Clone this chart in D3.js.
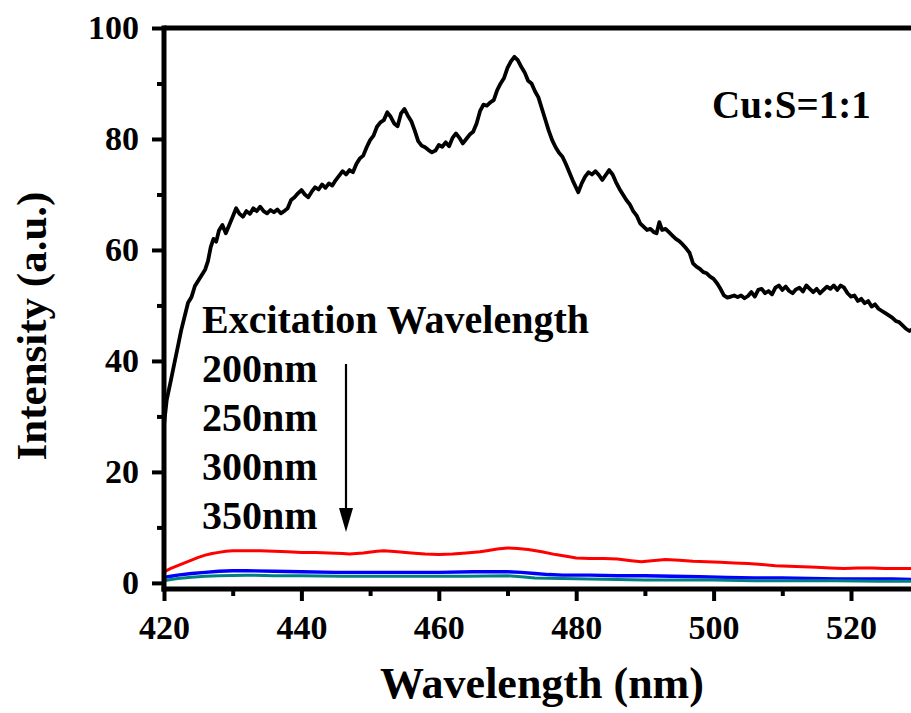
<!DOCTYPE html>
<html>
<head>
<meta charset="utf-8">
<script src="https://cdnjs.cloudflare.com/ajax/libs/d3/7.8.5/d3.min.js"></script>
<style>
html, body { margin: 0; padding: 0; background: #fff; }
svg { display: block; }
text { font-family: "Liberation Serif", "Times New Roman", serif; font-weight: bold; fill: #000; }
</style>
</head>
<body>
<svg id="chart" width="911" height="713"></svg>
<script>
// ---- data ----
const xTicks = [420, 440, 460, 480, 500, 520];
const xMinorTicks = [430, 450, 470, 490, 510, 530];
const yTicks = [0, 20, 40, 60, 80, 100];
const yMinorTicks = [10, 30, 50, 70, 90];

const legendTitle = "Excitation Wavelength";
const legendItems = ["200nm", "250nm", "300nm", "350nm"];
const sampleLabel = "Cu:S=1:1";
const xTitle = "Wavelength (nm)";
const yTitle = "Intensity (a.u.)";

const ex200 = [
[420.0,28.5],[420.4,33.0],[421.0,36.5],[421.5,39.5],[422.0,42.5],[422.5,45.5],[423.0,48.0],[423.5,50.5],
[424.0,51.5],[424.5,53.5],[425.0,54.5],[425.5,55.5],[426.0,56.5],[426.4,58.0],[426.8,60.5],[427.2,62.0],
[427.6,61.5],[428.0,63.5],[428.5,64.5],[429.0,63.0],[429.5,64.5],[430.0,66.0],[430.5,67.5],[431.0,66.5],
[431.5,66.0],[432.0,67.0],[432.5,66.5],[433.0,67.5],[433.5,67.0],[434.0,67.8],[434.5,67.0],[435.0,66.6],
[435.5,67.2],[436.0,66.8],[436.5,67.3],[437.0,66.6],[437.5,67.0],[438.0,67.5],[438.5,69.0],[439.0,69.5],
[439.5,70.2],[440.0,70.8],[440.5,70.0],[441.0,69.5],[441.5,70.5],[442.0,71.3],[442.5,70.9],[443.0,71.8],
[443.5,71.2],[444.0,72.0],[444.5,71.6],[445.0,72.6],[445.5,73.4],[446.0,74.2],[446.5,73.6],[447.0,74.4],
[447.5,74.0],[448.0,75.5],[448.5,76.5],[449.0,77.0],[449.5,78.5],[450.0,79.8],[450.5,80.6],[451.0,82.2],
[451.5,83.0],[452.0,83.4],[452.5,84.8],[453.0,84.0],[453.5,82.8],[454.0,82.3],[454.5,84.6],[455.0,85.4],
[455.5,84.2],[456.0,83.2],[456.5,81.5],[457.0,79.6],[457.5,78.8],[458.0,78.5],[458.5,78.0],[459.0,77.6],
[459.5,77.9],[460.0,78.9],[460.5,78.6],[461.0,79.4],[461.5,78.7],[462.0,80.2],[462.5,81.0],[463.0,80.2],
[463.5,79.2],[464.0,80.0],[464.5,80.8],[465.0,81.3],[465.5,82.8],[466.0,85.0],[466.5,86.2],[467.0,86.0],
[467.5,86.6],[468.0,87.0],[468.5,88.8],[469.0,90.0],[469.5,91.0],[470.0,92.8],[470.5,94.0],[471.0,94.8],
[471.5,94.2],[472.0,93.0],[472.5,92.0],[473.0,90.5],[473.5,90.0],[474.0,88.6],[474.5,87.5],[475.0,85.5],
[475.5,83.5],[476.0,81.5],[476.5,79.8],[477.0,78.5],[477.5,77.5],[478.0,76.8],[478.5,75.5],[479.0,74.0],
[479.5,72.5],[480.0,71.2],[480.3,70.4],[480.8,72.0],[481.3,73.2],[481.8,74.0],[482.3,73.6],[482.8,74.2],
[483.3,73.5],[483.8,72.6],[484.3,73.5],[484.8,74.4],[485.3,73.6],[485.8,72.2],[486.3,71.0],[486.8,70.0],
[487.3,69.0],[487.8,68.2],[488.3,67.0],[488.8,66.2],[489.3,64.8],[489.8,64.2],[490.3,63.6],[490.8,63.8],
[491.3,63.2],[491.7,63.0],[492.1,65.0],[492.5,63.6],[493.0,63.8],[493.5,63.2],[494.0,62.6],[494.5,62.0],
[495.0,61.6],[495.5,61.0],[496.0,60.3],[496.5,59.5],[497.0,57.6],[497.5,57.0],[498.0,56.6],[498.5,56.0],
[499.0,55.8],[499.5,55.2],[500.0,54.8],[500.5,54.0],[501.0,53.0],[501.5,51.8],[502.0,51.4],[502.5,51.6],
[503.0,51.8],[503.5,51.5],[504.0,51.8],[504.5,51.3],[505.0,51.7],[505.5,52.4],[506.0,51.6],[506.5,52.8],
[507.0,53.0],[507.5,52.2],[508.0,52.6],[508.5,52.0],[509.0,53.2],[509.5,53.6],[510.0,52.8],[510.5,53.4],
[511.0,52.6],[511.5,52.2],[512.0,52.9],[512.5,53.2],[513.0,52.5],[513.5,53.6],[514.0,53.0],[514.5,52.4],
[515.0,53.0],[515.5,52.2],[516.0,52.8],[516.5,53.4],[517.0,53.0],[517.5,53.6],[518.0,52.8],[518.5,53.6],
[519.0,53.2],[519.5,52.2],[520.0,51.6],[520.5,51.8],[521.0,50.8],[521.5,51.2],[522.0,50.4],[522.5,50.8],
[523.0,49.8],[523.5,50.2],[524.0,49.4],[524.5,49.0],[525.0,48.6],[525.5,48.2],[526.0,47.8],[526.5,47.2],
[527.0,47.0],[527.5,46.4],[528.0,45.8],[528.5,45.4],[529.0,45.8],[529.5,45.0],[530.0,44.6]
];

const ex250 = [
[420,2.0],[421,2.6],[422,3.1],[423,3.6],[424,4.1],[425,4.6],[426,5.0],[427,5.3],[428,5.5],[429,5.7],
[430,5.8],[432,5.8],[434,5.8],[436,5.7],[438,5.6],[440,5.5],[442,5.5],[444,5.4],[446,5.3],[447,5.2],
[449,5.4],[451,5.7],[452,5.8],[454,5.6],[456,5.4],[458,5.2],[460,5.1],[462,5.2],[464,5.4],[466,5.6],
[467,5.8],[468.5,6.1],[470,6.3],[471.5,6.2],[473,6.0],[475,5.6],[477,5.1],[479,4.7],[480,4.5],[482,4.4],
[484,4.4],[486,4.3],[488,4.0],[489.5,3.8],[491,4.0],[493,4.2],[495,4.1],[497,3.9],[499,3.8],[501,3.7],
[503,3.6],[505,3.5],[507,3.3],[509,3.1],[511,3.0],[513,2.9],[515,2.8],[517,2.7],[519,2.6],[521,2.7],
[523,2.7],[525,2.6],[527,2.6],[530,2.6]
];

const ex300 = [
[420,1.0],[421,1.2],[422,1.4],[424,1.7],[426,1.9],[428,2.1],[430,2.2],[432,2.2],[436,2.1],[440,2.0],
[445,1.9],[450,1.9],[455,1.9],[460,1.9],[465,2.0],[470,2.0],[472,1.9],[474,1.7],[476,1.5],[478,1.4],
[482,1.4],[486,1.3],[490,1.3],[494,1.2],[498,1.1],[502,1.0],[506,0.9],[510,0.9],[514,0.8],[518,0.7],
[522,0.7],[526,0.7],[530,0.6]
];

const ex350 = [
[420,0.4],[421,0.6],[422,0.8],[424,1.0],[426,1.2],[428,1.3],[432,1.4],[436,1.3],[440,1.3],[446,1.2],
[452,1.2],[458,1.2],[464,1.2],[470,1.3],[472,1.1],[474,0.9],[478,0.8],[482,0.7],[486,0.6],[490,0.5],
[496,0.5],[500,0.5],[506,0.4],[512,0.4],[518,0.4],[524,0.3],[530,0.3]
];

const seriesColors = ["#000000", "#ff0000", "#0000ff", "#008080"];

// ---- drawing ----
const svg = d3.select("#chart");
const x = d3.scaleLinear().domain([420, 530]).range([164, 164 + 110 * 6.87]);
const y = d3.scaleLinear().domain([-1.1, 100]).range([589, 28]);

const x0 = x(420), x1 = 960, yTop = y(100), yBot = y(-1.1);

// series
const line = d3.line().x(d => x(d[0])).y(d => y(d[1]));
const series = [ex200, ex250, ex300, ex350];
const widths = [3.8, 3.0, 3.4, 3.0];
series.forEach((s, i) => {
  svg.append("path").datum(s)
    .attr("d", line)
    .attr("fill", "none")
    .attr("stroke", seriesColors[i])
    .attr("stroke-width", widths[i])
    .attr("stroke-linejoin", "round");
});

// frame
svg.append("line").attr("x1", x0).attr("x2", x1).attr("y1", yTop).attr("y2", yTop)
  .attr("stroke", "#000").attr("stroke-width", 5);

// x axis
const xAxis = d3.axisBottom(x).tickValues(xTicks).tickSize(12).tickPadding(14).tickFormat(d3.format("d"));
const gx = svg.append("g").attr("transform", `translate(0,${yBot})`).call(xAxis);
gx.select(".domain").attr("d", `M${x0 - 2.5},0H${x1}`).attr("stroke-width", 5);
gx.selectAll(".tick line").attr("stroke-width", 4);
gx.selectAll(".tick text").attr("font-size", 34).attr("dy", "0.71em");
const xMinor = d3.axisBottom(x).tickValues(xMinorTicks).tickSize(7).tickFormat("");
const gxm = svg.append("g").attr("transform", `translate(0,${yBot})`).call(xMinor);
gxm.select(".domain").remove();
gxm.selectAll(".tick line").attr("stroke-width", 4);

// y axis
const yAxis = d3.axisLeft(y).tickValues(yTicks).tickSize(12).tickPadding(13).tickFormat(d3.format("d"));
const gy = svg.append("g").attr("transform", `translate(${x0},0)`).call(yAxis);
gy.select(".domain").attr("d", `M0,${yTop - 2.5}V${yBot + 2.5}`).attr("stroke-width", 5);
gy.selectAll(".tick line").attr("stroke-width", 4);
gy.selectAll(".tick text").attr("font-size", 34);
const yMinor = d3.axisLeft(y).tickValues(yMinorTicks).tickSize(7).tickFormat("");
const gym = svg.append("g").attr("transform", `translate(${x0},0)`).call(yMinor);
gym.select(".domain").remove();
gym.selectAll(".tick line").attr("stroke-width", 4);

svg.selectAll(".tick text").attr("font-family", "Liberation Serif").attr("font-weight", "bold").attr("fill", "#000");

// axis titles
svg.append("text").attr("x", 542).attr("y", 698).attr("text-anchor", "middle")
  .attr("font-size", 44).text(xTitle);
svg.append("text").attr("transform", "translate(46,326) rotate(-90)").attr("text-anchor", "middle")
  .attr("font-size", 43).text(yTitle);

// sample label
svg.append("text").attr("x", 712).attr("y", 118).attr("font-size", 39).text(sampleLabel);

// legend text
svg.append("text").attr("x", 202).attr("y", 333).attr("font-size", 40).text(legendTitle);
legendItems.forEach((t, i) => {
  svg.append("text").attr("x", 202).attr("y", 382 + i * 49).attr("font-size", 40).text(t);
});

// arrow
svg.append("line").attr("x1", 346).attr("x2", 346).attr("y1", 364).attr("y2", 512)
  .attr("stroke", "#000").attr("stroke-width", 2.2);
svg.append("path").attr("d", "M339,508 L353,508 L346,532 Z").attr("fill", "#000");
</script>
</body>
</html>
